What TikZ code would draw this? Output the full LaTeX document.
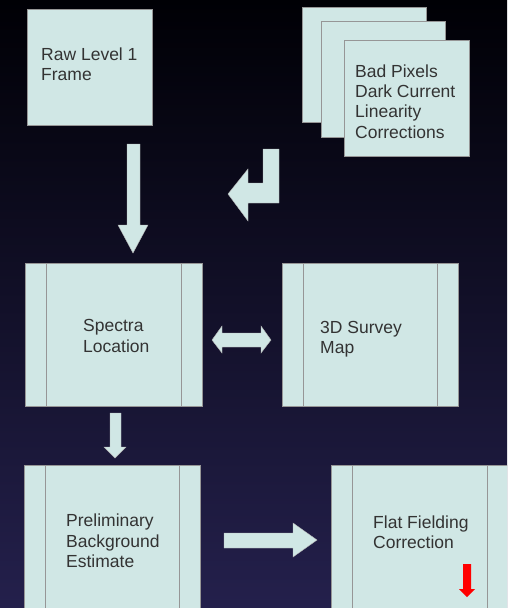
\documentclass[tikz,border=0pt]{standalone}
\usepackage{fontspec}
\setmainfont{Liberation Sans}
\definecolor{boxfill}{RGB}{208,231,229}
\definecolor{boxline}{RGB}{150,150,150}
\definecolor{txtgray}{RGB}{51,51,51}
\definecolor{skytop}{RGB}{0,0,5}
\definecolor{skymid}{RGB}{10,9,32}
\definecolor{skybot}{RGB}{36,32,76}
\begin{document}
\begin{tikzpicture}[x=1pt, y=-1pt,
  box/.style={draw=boxline, fill=boxfill, line width=1pt, anchor=north west, inner sep=0pt},
  process/.style={box, path picture={
    \draw[boxline, line width=1pt]
      ([xshift=21pt]path picture bounding box.north west) -- ([xshift=21pt]path picture bounding box.south west)
      ([xshift=-21pt]path picture bounding box.north east) -- ([xshift=-21pt]path picture bounding box.south east);}},
  boxtext/.style={anchor=west, align=left, inner sep=0pt, text=txtgray, font=\fontsize{17.5}{20.3}\selectfont},
  blockarrow/.style={fill=boxfill, draw=boxline!70, line width=0.4pt}]
  \useasboundingbox (0,0) rectangle (507,608);
  \clip (0,0) rectangle (507,608);
  \shade[top color=skytop, middle color=skymid, bottom color=skybot] (0,0) rectangle (507,608);

  \node[box, minimum width=125pt, minimum height=116pt] (raw) at (27,9) {};
  \node[boxtext] (rawtxt) at (41,64) {Raw Level 1\\Frame};

  \node[box, minimum width=124pt, minimum height=115pt] (calback) at (302,7) {};
  \node[box, minimum width=124pt, minimum height=116pt] (calmid) at (321,21) {};
  \node[box, minimum width=125pt, minimum height=116pt] (calfront) at (344,40) {};
  \node[boxtext] (caltxt) at (355,101.5) {Bad Pixels\\Dark Current\\Linearity\\Corrections};

  \node[process, minimum width=177pt, minimum height=143pt] (spectra) at (25,263) {};
  \node[boxtext] (spectxt) at (83,336) {Spectra\\Location};

  \node[process, minimum width=176pt, minimum height=143pt] (survey) at (282,263) {};
  \node[boxtext] (survtxt) at (320,339) {3D Survey\\Map};

  \node[process, minimum width=176pt, minimum height=160pt] (prelim) at (24,465) {};
  \node[boxtext] (prelimtxt) at (66,541) {Preliminary\\Background\\Estimate};

  \node[process, minimum width=177pt, minimum height=160pt] (flat) at (331,465) {};
  \node[boxtext] (flattxt) at (373,532) {Flat Fielding\\Correction};

  \draw[blockarrow] (127,144) -- (140,144) -- (140,225) -- (148,225) -- (133,253) -- (118,225) -- (127,225) -- cycle;
  \draw[blockarrow] (263,149) -- (279,149) -- (279,203) -- (248,203) -- (248,221) -- (228,194)
    -- (248,169) -- (248,183) -- (263,183) -- cycle;
  \draw[blockarrow] (212,340) -- (222,326) -- (222,333) -- (261,333) -- (261,326) -- (271,340)
    -- (261,353) -- (261,347) -- (222,347) -- (222,353) -- cycle;
  \draw[blockarrow] (110,413) -- (121,413) -- (121,447) -- (126,447) -- (115,458) -- (104,447) -- (110,447) -- cycle;
  \draw[blockarrow] (224,533) -- (293,533) -- (293,523) -- (317,540) -- (293,557) -- (293,548) -- (224,548) -- cycle;
  \fill[red] (463,564) -- (471,564) -- (471,589) -- (475,589) -- (467,597) -- (459,589) -- (463,589) -- cycle;
\end{tikzpicture}
\end{document}
